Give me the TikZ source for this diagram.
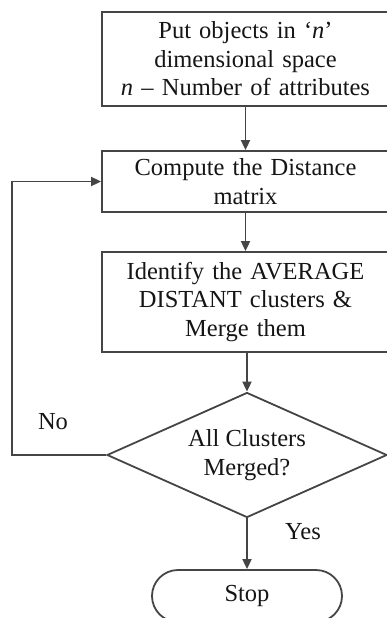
\documentclass[tikz,border=0pt]{standalone}
\usepackage{fontspec}
\setmainfont{Liberation Serif}
\usetikzlibrary{shapes.geometric,shapes.misc,arrows.meta}
\definecolor{linecol}{HTML}{454545}
\definecolor{inkcol}{HTML}{151515}
\newcommand\flowfont{\fontsize{24.5}{28.5}\selectfont}

\begin{document}
\begin{tikzpicture}[x=1pt,y=-1pt,
  every node/.style={text=inkcol, font=\flowfont},
  stepbox/.style={draw=linecol, line width=1.8pt, rectangle,
    minimum width=287pt, text width=270pt, align=center, inner sep=0pt},
  decision/.style={draw=linecol, line width=1.8pt, diamond, aspect=2.24,
    minimum width=280pt, minimum height=125pt, align=center, inner sep=0pt},
  terminal/.style={draw=linecol, line width=1.8pt, rounded rectangle,
    minimum width=190pt, minimum height=52pt, inner sep=0pt},
  arr/.style={draw=linecol, line width=1.8pt, -{Triangle[width=9pt,length=10pt]}},
  lbl/.style={inner sep=0pt}
]
\useasboundingbox (0,0) rectangle (387,618);
\clip (0,0) rectangle (387,618);

% process steps
\node[stepbox, minimum height=94pt]  (put)  at (245.5,59)
  {Put objects in `\textit{n}'\\dimensional space\\\textit{n} -- Number of attributes};
\node[stepbox, minimum height=61pt]  (dist) at (245.5,181.5)
  {Compute the Distance\\matrix};
\node[stepbox, minimum height=100pt] (merge) at (245.5,302)
  {Identify the AVERAGE\\DISTANT clusters \&\\Merge them};

% test and end
\node[decision] (test) at (247,455) {All Clusters\\Merged?};
\node[terminal] (stop) at (247,596) {Stop};

% branch labels
\node[lbl] (no)  at (53,422)  {No};
\node[lbl] (yes) at (303,532) {Yes};

% loop-back corner
\coordinate (back) at (12,455);

% connectors
\draw[arr] (put.south) -- (dist.north);
\draw[arr] (dist.south) -- (merge.north);
\draw[arr] (merge.south -| test.north) -- (test.north);
\draw[arr] (test.south) -- (stop.north);
\draw[arr] (test.west) -- (back) |- (dist.west);
\end{tikzpicture}
\end{document}
